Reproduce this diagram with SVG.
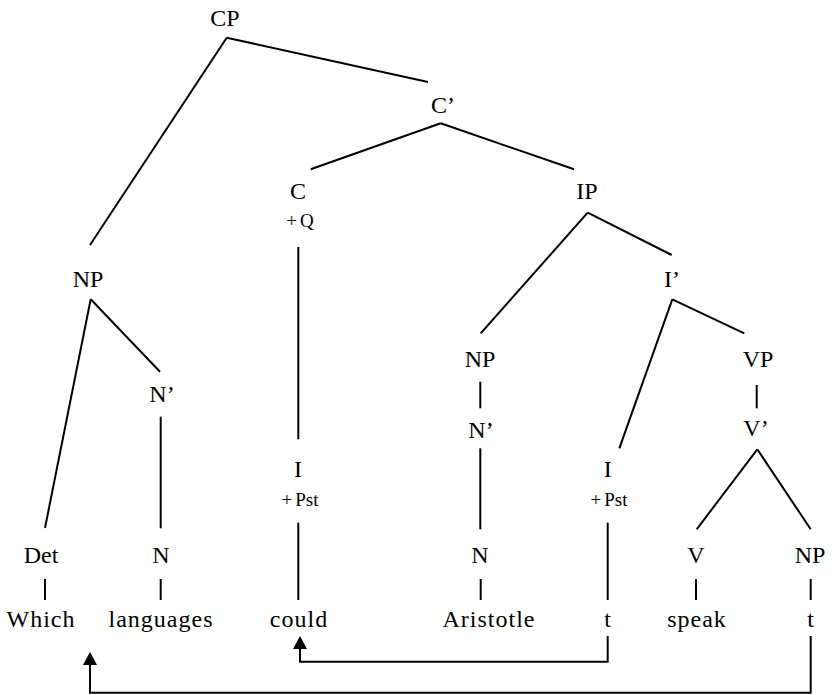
<svg xmlns="http://www.w3.org/2000/svg" width="832" height="695" viewBox="0 0 832 695">
  <style>
    .word { letter-spacing: 1px; }
    .edge { stroke: #000; stroke-width: 2; fill: none; stroke-linecap: butt; }
  </style>
  <defs>
    <marker id="head" viewBox="0 0 13 14" refX="0" refY="7" markerWidth="13" markerHeight="14" markerUnits="userSpaceOnUse" orient="auto">
      <path d="M0,0 L13,7 L0,14 z" fill="#000"/>
    </marker>
  </defs>
  <rect width="832" height="695" fill="#fff"/>

  <!-- tree branches and movement arrows -->
  <g id="connectors">
    <line class="edge" x1="226.7" y1="37.7" x2="428" y2="82"/>
    <line class="edge" x1="226.7" y1="37.7" x2="90" y2="245"/>
    <line class="edge" x1="440.7" y1="123.3" x2="310.7" y2="169.3"/>
    <line class="edge" x1="440.7" y1="123.3" x2="574" y2="169.3"/>
    <line class="edge" x1="90.7" y1="299.3" x2="45" y2="528"/>
    <line class="edge" x1="90.7" y1="299.3" x2="160" y2="371.7"/>
    <line class="edge" x1="160.7" y1="416.7" x2="160.7" y2="528.3"/>
    <line class="edge" x1="298.3" y1="247" x2="298.3" y2="439.3"/>
    <line class="edge" x1="587.7" y1="212.7" x2="480.7" y2="333.3"/>
    <line class="edge" x1="587.7" y1="212.7" x2="671.7" y2="255"/>
    <line class="edge" x1="672.3" y1="299.3" x2="619.3" y2="448.3"/>
    <line class="edge" x1="672.3" y1="299.3" x2="744.3" y2="333.3"/>
    <line class="edge" x1="480.3" y1="381.7" x2="480.3" y2="408.3"/>
    <line class="edge" x1="480.3" y1="448.3" x2="480.3" y2="529.3"/>
    <line class="edge" x1="756.7" y1="385" x2="756.7" y2="408.3"/>
    <line class="edge" x1="757.3" y1="449.3" x2="696.7" y2="529.3"/>
    <line class="edge" x1="757.3" y1="449.3" x2="810.7" y2="529.3"/>
    <line class="edge" x1="45" y1="579" x2="45" y2="600"/>
    <line class="edge" x1="160.7" y1="579" x2="160.7" y2="600"/>
    <line class="edge" x1="298.3" y1="522.7" x2="298.3" y2="600"/>
    <line class="edge" x1="480.7" y1="579" x2="480.7" y2="600"/>
    <line class="edge" x1="607.7" y1="522.7" x2="607.7" y2="600"/>
    <line class="edge" x1="696" y1="579" x2="696" y2="600"/>
    <line class="edge" x1="810.7" y1="579" x2="810.7" y2="600"/>
    <!-- I-to-C movement -->
    <path class="edge" d="M607.7,636 V661.7 H300 V649" marker-end="url(#head)"/>
    <!-- wh-movement -->
    <path class="edge" d="M810.7,636 V692.7 H90 V665" marker-end="url(#head)"/>
  </g>

  <g font-family="'Liberation Serif', 'DejaVu Serif', serif" font-size="24" fill="#000" text-anchor="middle">
    <g id="cp"><text x="225" y="26">CP</text></g>
    <g id="c-bar"><text x="443" y="113">C’</text></g>
    <g id="c"><text x="298" y="199">C</text><text font-size="19" x="300" y="227">+<tspan dx="3">Q</tspan></text></g>
    <g id="ip"><text x="587" y="199">IP</text></g>
    <g id="np-wh"><text x="88" y="287">NP</text></g>
    <g id="i-bar"><text x="672" y="287">I’</text></g>
    <g id="n-bar-wh"><text x="162" y="402">N’</text></g>
    <g id="np-subj"><text x="480" y="367">NP</text></g>
    <g id="vp"><text x="758" y="367">VP</text></g>
    <g id="n-bar-subj"><text x="481" y="438">N’</text></g>
    <g id="v-bar"><text x="756" y="436">V’</text></g>
    <g id="i-moved"><text x="298" y="477">I</text><text font-size="19" x="300" y="506">+<tspan dx="3">Pst</tspan></text></g>
    <g id="i-base"><text x="607.7" y="477">I</text><text font-size="19" x="609" y="506">+<tspan dx="3">Pst</tspan></text></g>
    <g id="det"><text x="41" y="563">Det</text></g>
    <g id="n-wh"><text x="161" y="563">N</text></g>
    <g id="n-subj"><text x="480" y="563">N</text></g>
    <g id="v"><text x="696" y="563">V</text></g>
    <g id="np-obj"><text x="810" y="563">NP</text></g>
    <g id="which"><text class="word" x="41" y="627">Which</text></g>
    <g id="languages"><text class="word" x="161" y="627">languages</text></g>
    <g id="could"><text class="word" x="299" y="627">could</text></g>
    <g id="aristotle"><text class="word" x="489" y="627">Aristotle</text></g>
    <g id="t-i"><text x="607.7" y="627">t</text></g>
    <g id="speak"><text class="word" x="697" y="627">speak</text></g>
    <g id="t-np"><text x="810.7" y="627">t</text></g>
  </g>
</svg>
